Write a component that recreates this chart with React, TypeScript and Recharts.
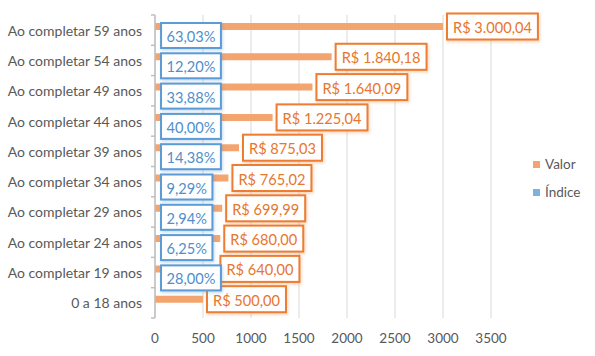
import React from "react";
import { BarChart, Bar, XAxis, YAxis, CartesianGrid, LabelList } from "recharts";

const categories = [
  "Ao completar 59 anos",
  "Ao completar 54 anos",
  "Ao completar 49 anos",
  "Ao completar 44 anos",
  "Ao completar 39 anos",
  "Ao completar 34 anos",
  "Ao completar 29 anos",
  "Ao completar 24 anos",
  "Ao completar 19 anos",
  "0 a 18 anos",
];
const valor = [3000.04, 1840.18, 1640.09, 1225.04, 875.03, 765.02, 699.99, 680.0, 640.0, 500.0];
const indice: (number | null)[] = [0.6303, 0.122, 0.3388, 0.4, 0.1438, 0.0929, 0.0294, 0.0625, 0.28, null];
const xTicks = [0, 500, 1000, 1500, 2000, 2500, 3000, 3500];

const data = categories.map((c, i) => ({ name: c, valor: valor[i], indice: indice[i] }));

const ORANGE_BAR = "#F4A46F";
const ORANGE_LINE = "#ED7D31";
const ORANGE_TEXT = "#E8762D";
const BLUE_BAR = "#7EB1DE";
const BLUE_LINE = "#5B9BD5";
const BLUE_TEXT = "#4F8FCB";
const FONT = "Lato, 'Open Sans', sans-serif";
const LABEL_SIZE = 14.6;

const W = 595;
const H = 356;
const M = { top: 15, right: 104, bottom: 8, left: 0 };
const Y_W = 155;
const X_H = 30;
const PLOT_H = H - M.top - M.bottom - X_H;

let ctx: CanvasRenderingContext2D | null = null;
function textWidth(t: string, size: number) {
  if (!ctx) ctx = document.createElement("canvas").getContext("2d");
  if (!ctx) return t.length * size * 0.5;
  ctx.font = `${size}px Lato`;
  return ctx.measureText(t).width;
}

function fmtBRL(v: number) {
  const [int, dec] = v.toFixed(2).split(".");
  const withDots = int.replace(/\B(?=(\d{3})+(?!\d))/g, ".");
  return `R$ ${withDots},${dec}`;
}
function fmtPct(v: number) {
  return (v * 100).toFixed(2).replace(".", ",") + "%";
}

const ValorLabel = (p: any) => {
  const { x, y, width, height, value } = p;
  if (value == null) return null;
  const t = fmtBRL(Number(value));
  const tw = textWidth(t, LABEL_SIZE);
  const bx = Number(x) + Number(width) + 4;
  const cy = Number(y) + Number(height) / 2;
  const bw = tw + 12;
  const bh = 26;
  return (
    <g>
      <rect x={bx} y={cy - bh / 2} width={bw} height={bh} fill="#fff" stroke={ORANGE_LINE} strokeWidth={2} filter="url(#shO)" />
      <text x={bx + 6} y={cy + 1} dominantBaseline="central" fontFamily={FONT} fontSize={LABEL_SIZE} fill={ORANGE_TEXT}>
        {t}
      </text>
    </g>
  );
};

const IndiceLabel = (p: any) => {
  const { x, y, width, height, value } = p;
  if (value == null) return null;
  const t = fmtPct(Number(value));
  const tw = textWidth(t, LABEL_SIZE);
  const bx = Number(x) + Number(width) + 6;
  const cy = Number(y) + Number(height) / 2 + 2;
  const bw = tw + 11;
  const bh = 25;
  return (
    <g>
      <rect x={bx} y={cy - bh / 2} width={bw} height={bh} fill="#fff" stroke={BLUE_LINE} strokeWidth={2} filter="url(#shB)" />
      <text x={bx + 5.5} y={cy + 1} dominantBaseline="central" fontFamily={FONT} fontSize={LABEL_SIZE} fill={BLUE_TEXT}>
        {t}
      </text>
    </g>
  );
};

const YTick = (p: any) => {
  const { x, y, payload, index } = p;
  const band = PLOT_H / categories.length;
  const ax = Y_W;
  return (
    <g>
      <line x1={ax - 4} x2={ax} y1={y - band / 2} y2={y - band / 2} stroke="#BFBFBF" strokeWidth={1.5} />
      {index === categories.length - 1 && (
        <line x1={ax - 4} x2={ax} y1={y + band / 2} y2={y + band / 2} stroke="#BFBFBF" strokeWidth={1.5} />
      )}
      <text x={x} y={y} textAnchor="end" dominantBaseline="central" fontFamily={FONT} fontSize={14} fill="#595959">
        {payload.value}
      </text>
    </g>
  );
};

const LegendBox = () => (
  <div
    style={{
      position: "absolute",
      left: 533,
      top: 150,
      fontFamily: FONT,
      fontSize: 13.5,
      color: "#595959",
      lineHeight: "28px",
    }}
  >
    <div style={{ display: "flex", alignItems: "center" }}>
      <span style={{ width: 7, height: 7, background: ORANGE_BAR, marginRight: 5, display: "inline-block" }} />
      Valor
    </div>
    <div style={{ display: "flex", alignItems: "center" }}>
      <span style={{ width: 7, height: 7, background: BLUE_BAR, marginRight: 5, display: "inline-block" }} />
      Índice
    </div>
  </div>
);

export default function App() {
  return (
    <div style={{ position: "absolute", left: 0, top: 0, width: W, height: H, background: "#fff" }}>
      <BarChart width={W} height={H} data={data} layout="vertical" margin={M} barGap={0}>
        <defs>
          <filter id="shO" x="-20%" y="-40%" width="140%" height="180%">
            <feDropShadow dx="1" dy="1.5" stdDeviation="1.5" floodColor="#ED7D31" floodOpacity="0.35" />
          </filter>
          <filter id="shB" x="-20%" y="-40%" width="140%" height="180%">
            <feDropShadow dx="1" dy="1.5" stdDeviation="1.5" floodColor="#5B9BD5" floodOpacity="0.35" />
          </filter>
        </defs>
        <CartesianGrid horizontal={false} stroke="#D9D9D9" />
        <XAxis
          type="number"
          domain={[0, 3500]}
          ticks={xTicks}
          height={X_H}
          axisLine={false}
          tickLine={false}
          tickSize={0}
          tickMargin={15}
          tick={{ fontFamily: FONT, fontSize: 13.5, fill: "#595959" }}
        />
        <YAxis
          type="category"
          dataKey="name"
          width={Y_W}
          axisLine={{ stroke: "#BFBFBF", strokeWidth: 1.5 }}
          tickLine={false}
          tickSize={0}
          tickMargin={13}
          tick={<YTick />}
          interval={0}
        />
        <Bar dataKey="valor" name="Valor" fill={ORANGE_BAR} barSize={7} isAnimationActive={false}>
          <LabelList dataKey="valor" content={<ValorLabel />} />
        </Bar>
        <Bar dataKey="indice" name="Índice" fill={BLUE_BAR} barSize={7} isAnimationActive={false}>
          <LabelList dataKey="indice" content={<IndiceLabel />} />
        </Bar>
      </BarChart>
      <LegendBox />
    </div>
  );
}
